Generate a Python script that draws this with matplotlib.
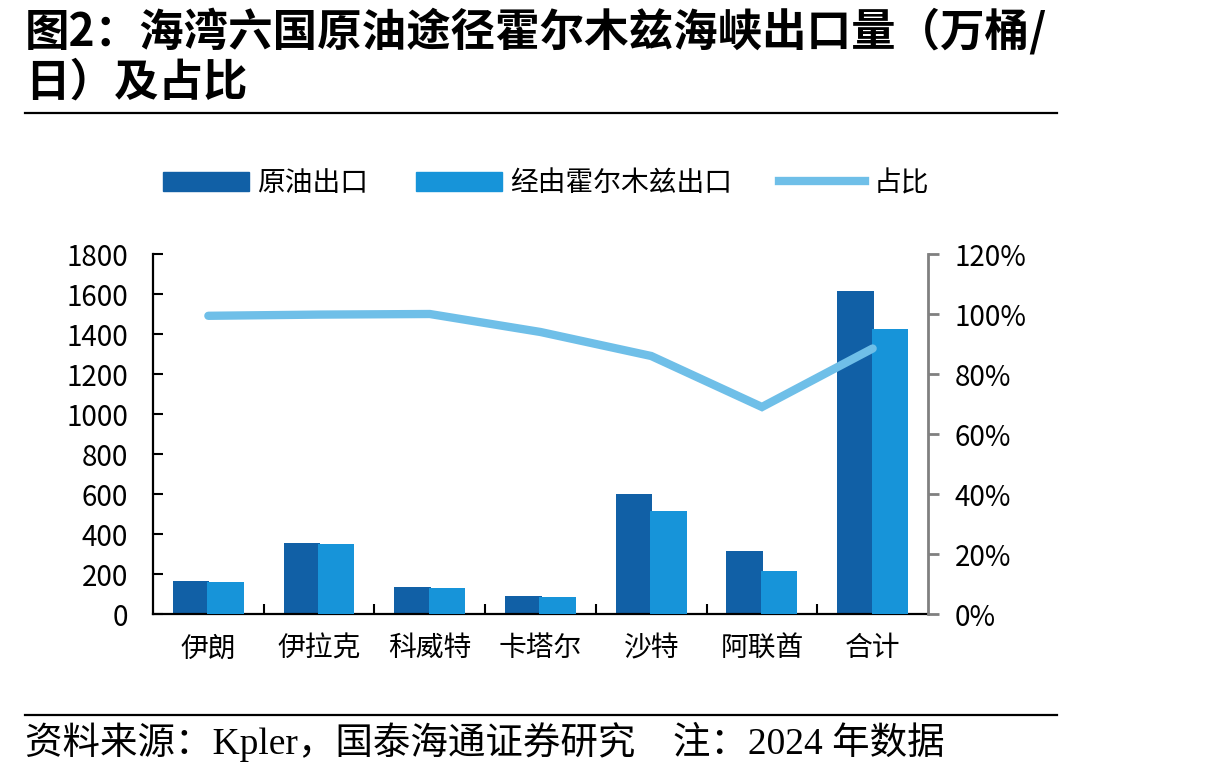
import matplotlib
matplotlib.use("Agg")
import matplotlib.pyplot as plt
import numpy as np
from matplotlib.patches import Patch
from matplotlib.lines import Line2D
from matplotlib.ticker import FuncFormatter, FixedLocator

plt.rcParams['font.family'] = ['Noto Sans CJK SC', 'DejaVu Sans']

countries = ["伊朗", "伊拉克", "科威特", "卡塔尔", "沙特", "阿联酋", "合计"]
crude_export = [167, 353, 137, 92, 600, 317, 1617]
via_hormuz = [161, 348, 132, 83, 517, 217, 1425]
share = [0.994, 0.998, 1.0, 0.94, 0.86, 0.69, 0.885]

dark = "#1160A6"
light = "#1794D9"
line_c = "#6FBFE8"

fig = plt.figure(figsize=(12.15, 7.74), dpi=100)

# title
fig.text(25 / 1215, 1 - 32 / 774, "图2：海湾六国原油途径霍尔木兹海峡出口量（万桶/",
         fontsize=32, fontweight="bold", va="center", ha="left")
fig.text(25 / 1215, 1 - 83 / 774, "日）及占比",
         fontsize=32, fontweight="bold", va="center", ha="left")
fig.add_artist(Line2D([25 / 1215, 1057 / 1215], [1 - 113 / 774] * 2, color="black", lw=1.6))
fig.add_artist(Line2D([25 / 1215, 1057 / 1215], [1 - 715 / 774] * 2, color="black", lw=1.6))
fig.text(25 / 1215, 1 - 742 / 774, "资料来源：Kpler，国泰海通证券研究    注：2024 年数据",
         fontsize=27, va="center", ha="left", family=["Liberation Serif", "Noto Sans CJK SC"])

ax = fig.add_axes([153 / 1215, 160 / 774, 775 / 1215, 360 / 774])
x = np.arange(len(countries))
w = 0.33
ax.bar(x - 0.155, crude_export, width=w, color=dark, zorder=2)
ax.bar(x + 0.155, via_hormuz, width=w, color=light, zorder=3)
ax.set_xlim(-0.5, len(countries) - 0.5)
ax.set_ylim(0, 1800)
ax.set_yticks(np.arange(0, 1801, 200))
ax.set_xticks(x)
ax.set_xticklabels(countries, fontsize=20)
ax.xaxis.set_minor_locator(FixedLocator(x[:-1] + 0.5))
ax.tick_params(axis="x", which="major", length=0, pad=14)
ax.tick_params(axis="x", which="minor", direction="in", length=7, width=1.5, color="black")
ax.tick_params(axis="y", direction="in", length=7, width=1.5, labelsize=20, pad=18)
for s in ["top", "right"]:
    ax.spines[s].set_visible(False)
ax.spines["left"].set_linewidth(1.6)
ax.spines["bottom"].set_linewidth(1.6)

ax2 = ax.twinx()
ax2.plot(x, share, color=line_c, lw=6, solid_capstyle="round", solid_joinstyle="miter")
ax2.set_ylim(0, 1.2)
ax2.set_yticks(np.arange(0, 1.21, 0.2))
ax2.yaxis.set_major_formatter(FuncFormatter(lambda v, p: f"{v * 100:.0f}%"))
ax2.tick_params(axis="y", direction="out", length=8, width=2, color="#808080", labelsize=20, pad=11)
for s in ["top", "left", "bottom"]:
    ax2.spines[s].set_visible(False)
ax2.spines["right"].set_color("#808080")
ax2.spines["right"].set_linewidth(2)

handles = [Patch(color=dark), Patch(color=light), Line2D([0], [0], color=line_c, lw=6)]
labels = ["原油出口", "经由霍尔木兹出口", "占比"]
fig.legend(handles, labels, loc="center", bbox_to_anchor=(546 / 1215, 1 - 183 / 774), ncol=3,
           frameon=False, fontsize=20, handlelength=3.1, handleheight=0.65,
           columnspacing=1.7, handletextpad=0.3)

fig.savefig("out.png", dpi=100)
